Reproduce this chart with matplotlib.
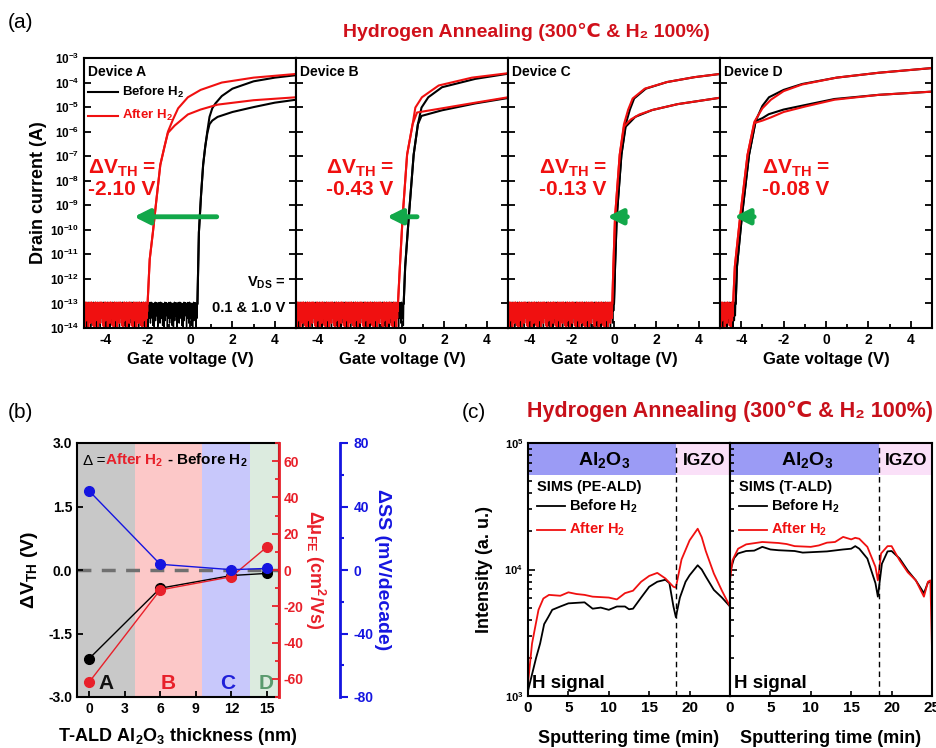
import numpy as np
import matplotlib
matplotlib.use("Agg")
import matplotlib.pyplot as plt
from matplotlib.ticker import FixedLocator, NullLocator, LogLocator, MultipleLocator

plt.rcParams['font.family'] = ['Liberation Sans', 'DejaVu Sans']
plt.rcParams['font.weight'] = 'bold'
plt.rcParams['axes.labelweight'] = 'bold'
plt.rcParams['axes.unicode_minus'] = False
plt.rcParams['mathtext.fontset'] = 'custom'
plt.rcParams['mathtext.rm'] = 'Liberation Sans:bold'
plt.rcParams['mathtext.it'] = 'Liberation Sans:bold'
plt.rcParams['mathtext.bf'] = 'Liberation Sans:bold'
plt.rcParams['axes.linewidth'] = 1.5

W, H = 936, 748
TITLE_RED = "#D0101A"
RED = "#F01010"
GREEN = "#12A84A"
TITLE = "Hydrogen Annealing (300℃ & H₂ 100%)"

# ---------------- panel (a) data: (gate V, log10 drain current) ----------------
NOISE = [-12.95, -13.3, -13.05, -13.6, -12.98, -13.2, -13.9, -13.0, -13.4, -13.1,
         -14.0, -13.0, -13.25, -12.95, -13.7, -13.1, -13.0, -13.5, -12.97, -13.35,
         -13.05, -13.95, -13.0, -13.2, -13.6, -12.96, -13.3, -13.1, -13.8, -13.0]

DEVICES = ["A", "B", "C", "D"]
VON_BEFORE = [0.35, 0.08, 0.0, -4.26]
VON_AFTER = [-2.0, -0.19, -0.08, -4.38]

A_BEFORE_HI = ([0.35, 0.42, 0.52, 0.62, 0.72, 0.82, 0.92, 1.05, 1.2, 1.5, 2.0, 3.0, 4.0, 5.0],
               [-13.0, -10.1, -8.6, -7.35, -6.6, -5.97, -5.4, -5.05, -4.85, -4.55, -4.25, -3.95, -3.8, -3.7])
A_BEFORE_LO = ([0.35, 0.42, 0.52, 0.62, 0.72, 0.82, 0.92, 1.05, 1.3, 2.0, 3.0, 4.0, 5.0],
               [-13.0, -10.1, -8.6, -7.35, -6.6, -6.05, -5.7, -5.55, -5.4, -5.2, -5.0, -4.82, -4.7])
A_AFTER_HI = ([-2.0, -1.9, -1.75, -1.6, -1.4, -1.2, -1.04, -0.8, -0.56, -0.1, 0.5, 1.5, 3.0, 5.0],
              [-13.0, -11.2, -10.1, -8.9, -7.35, -6.6, -6.0, -5.5, -5.05, -4.6, -4.3, -4.0, -3.8, -3.65])
A_AFTER_LO = ([-2.0, -1.9, -1.75, -1.6, -1.4, -1.2, -1.04, -0.72, -0.1, 0.5, 1.3, 3.0, 5.0],
              [-13.0, -11.2, -10.1, -8.9, -7.35, -6.6, -6.05, -5.75, -5.3, -5.1, -4.9, -4.72, -4.6])

B_BEFORE_HI = ([0.08, 0.15, 0.32, 0.55, 0.75, 0.92, 1.24, 1.89, 3.46, 5.0],
               [-13.0, -11.5, -9.47, -6.94, -5.7, -5.02, -4.6, -4.19, -3.85, -3.64])
B_BEFORE_LO = ([0.08, 0.15, 0.32, 0.55, 0.75, 0.92, 1.89, 3.46, 5.0],
               [-13.0, -11.5, -9.47, -6.94, -5.7, -5.36, -5.13, -4.85, -4.63])
B_AFTER_HI = ([-0.19, -0.1, 0.03, 0.24, 0.5, 0.63, 0.94, 1.73, 3.3, 5.0],
              [-13.0, -11.5, -9.47, -6.94, -5.7, -5.02, -4.6, -4.12, -3.8, -3.62])
B_AFTER_LO = ([-0.19, -0.1, 0.03, 0.24, 0.5, 0.71, 1.89, 3.46, 5.0],
              [-13.0, -11.5, -9.47, -6.94, -5.7, -5.22, -5.05, -4.82, -4.6])

C_BEFORE_HI = ([0.0, 0.05, 0.13, 0.35, 0.55, 0.75, 0.95, 1.5, 2.5, 3.8, 5.0],
               [-13.0, -11.5, -9.47, -6.94, -5.7, -5.1, -4.65, -4.25, -3.98, -3.78, -3.65])
C_BEFORE_LO = ([0.0, 0.05, 0.13, 0.35, 0.55, 0.72, 1.0, 1.8, 3.0, 5.0],
               [-13.0, -11.5, -9.47, -6.94, -5.8, -5.65, -5.4, -5.12, -4.88, -4.62])
C_AFTER_HI = ([-0.08, -0.03, 0.05, 0.27, 0.47, 0.67, 0.88, 1.45, 2.5, 3.8, 5.0],
              [-13.0, -11.5, -9.47, -6.94, -5.7, -5.1, -4.65, -4.25, -3.98, -3.78, -3.65])
C_AFTER_LO = ([-0.08, -0.03, 0.05, 0.27, 0.47, 0.62, 0.8, 1.2, 1.8, 3.0, 5.0],
              [-13.0, -11.5, -9.47, -6.94, -5.8, -5.65, -5.5, -5.3, -5.12, -4.88, -4.62])

D_BEFORE_HI = ([-4.26, -4.2, -3.97, -3.63, -3.32, -3.0, -2.69, -2.0, -1.13, 0.5, 2.5, 5.0],
               [-13.0, -11.5, -9.47, -6.94, -5.57, -4.95, -4.6, -4.3, -4.06, -3.8, -3.6, -3.41])
D_BEFORE_LO = ([-4.26, -4.2, -3.97, -3.63, -3.32, -3.0, -2.7, -2.0, -1.0, 0.4, 2.5, 5.0],
               [-13.0, -11.5, -9.47, -6.94, -5.57, -5.45, -5.29, -5.1, -4.92, -4.67, -4.5, -4.37])
D_AFTER_HI = ([-4.38, -4.3, -4.05, -3.7, -3.38, -3.0, -2.6, -2.0, -1.13, 0.5, 2.5, 5.0],
              [-13.0, -11.5, -9.47, -6.94, -5.6, -5.05, -4.7, -4.35, -4.08, -3.8, -3.6, -3.41])
D_AFTER_LO = ([-4.38, -4.3, -4.05, -3.7, -3.38, -3.0, -2.6, -2.0, -1.0, 0.4, 2.5, 5.0],
              [-13.0, -11.5, -9.47, -6.94, -5.65, -5.55, -5.42, -5.2, -4.98, -4.7, -4.5, -4.37])

BEFORE_CURVES = [(A_BEFORE_HI, A_BEFORE_LO), (B_BEFORE_HI, B_BEFORE_LO),
                 (C_BEFORE_HI, C_BEFORE_LO), (D_BEFORE_HI, D_BEFORE_LO)]
AFTER_CURVES = [(A_AFTER_HI, A_AFTER_LO), (B_AFTER_HI, B_AFTER_LO),
                (C_AFTER_HI, C_AFTER_LO), (D_AFTER_HI, D_AFTER_LO)]
DVTH_TEXT = ["-2.10 V", "-0.43 V", "-0.13 V", "-0.08 V"]
DVTH_TEXT_X = [0.02, 0.14, 0.147, 0.2]
ARROW_FROM = [1.26, 0.71, 0.63, -3.39]
ARROW_TO = [-2.64, -0.71, -0.32, -4.33]

# ---------------- panel (b) data ----------------
THICK = [0, 6, 12, 15]
DVTH = [-2.10, -0.43, -0.13, -0.08]
DMU = [-62, -11, -3.7, 12.8]
DSS = [50, 3.6, 0.2, 1.0]
REGION_EDGES = [-1, 3.87, 9.5, 13.6, 16]
REGION_COLORS = ["#c8c8c8", "#fcc8c8", "#c8c8fb", "#dcebdf"]
REGION_LETTERS = ["A", "B", "C", "D"]
LETTER_X = [1.45, 6.7, 11.7, 14.9]
LETTER_COLORS = ["#111111", "#e8202a", "#2020d8", "#5a9a6e"]

# ---------------- panel (c) data ----------------
PE_T_RED = [0, 0.5, 1.3, 1.9, 2.6, 4, 5, 6, 7, 8, 9, 10, 11, 12, 13, 14, 15, 16, 17, 18, 18.3,
            19, 20, 21, 21.5, 22, 23, 24, 25]
PE_RED = [1260, 2600, 4800, 5900, 6300, 6200, 6600, 6400, 6300, 6100, 6050, 6000, 5800, 6500,
          6800, 8000, 8900, 9400, 8500, 7300, 7200, 12000, 17000, 21000, 18000, 14000, 9300, 6800, 5100]
PE_T_BLK = [0, 1, 1.5, 2, 2.5, 3, 4, 5, 6, 7, 8, 9, 10, 11, 12, 12.5, 13, 14, 15, 16, 17, 17.5,
            18, 18.3, 18.8, 19.5, 20, 21, 21.5, 22, 23, 24, 25]
PE_BLK = [1100, 2000, 2600, 3700, 4200, 4800, 5100, 5400, 5450, 5500, 4900, 5000, 4800, 5100, 5100,
          4850, 4900, 6000, 7300, 8000, 8300, 7800, 5100, 4200, 6000, 8000, 9000, 10800, 10000, 8800,
          6900, 6000, 5100]
T_T_RED = [0, 0.3, 1, 2, 4, 6, 7, 8, 10, 11, 12, 13, 14, 15, 15.5, 16, 17, 18, 18.3, 18.7, 19.5,
           20, 20.5, 21, 22, 23, 24, 24.5, 24.8, 25]
T_RED = [8200, 11800, 14600, 15800, 16500, 16200, 15900, 15300, 15100, 15500, 16300, 16500, 18100,
         17300, 17800, 17500, 15100, 10500, 8200, 13400, 15300, 15300, 13400, 11800, 9500, 8200,
         6100, 8000, 8200, 2300]
T_T_BLK = [0, 0.5, 1, 2, 3, 4, 5, 6, 8, 9, 10, 12, 14, 15, 15.5, 16, 17, 18, 18.3, 18.8, 19.5,
           20, 21, 22, 23, 24, 24.5, 25]
T_BLK = [9500, 12300, 13400, 14000, 14100, 15100, 14400, 14200, 14000, 13600, 13700, 13900, 14400,
         14600, 15300, 14600, 12200, 7800, 6100, 11100, 13900, 14000, 12200, 9800, 8200, 6500, 7900, 8100]
INTERFACE = [18.3, 18.5]
SIMS_NAMES = ["SIMS (PE-ALD)", "SIMS (T-ALD)"]


def box(l, t, r, b):
    return [l / W, 1 - b / H, (r - l) / W, (b - t) / H]


def ftext(x, y, s, **kw):
    fig.text(x / W, 1 - y / H, s, **kw)


def bold_ticks(ax):
    for lab in ax.get_xticklabels() + ax.get_yticklabels():
        lab.set_fontweight("bold")


fig = plt.figure(figsize=(W / 100, H / 100), dpi=100)
fig.patch.set_facecolor("white")

# =============================== panel (a) ===============================
a_left = [84, 296, 508, 720]
for i, dev in enumerate(DEVICES):
    ax = fig.add_axes(box(a_left[i], 58, a_left[i] + 212, 328))
    # noise floors
    nb = int((VON_BEFORE[i] + 5) / 0.015)
    xb = np.linspace(-5, VON_BEFORE[i], nb)
    ax.plot(xb, 10 ** np.resize(NOISE, nb), color="black", lw=1.0)
    na = int((VON_AFTER[i] + 5) / 0.015)
    xa = np.linspace(-5, VON_AFTER[i], na)
    ax.plot(xa, 10 ** np.resize(NOISE[7:] + NOISE[:7], na), color=RED, lw=1.3)
    for v, li in BEFORE_CURVES[i]:
        ax.plot(v, 10 ** np.array(li), color="black", lw=1.5)
    for v, li in AFTER_CURVES[i]:
        ax.plot(v, 10 ** np.array(li), color=RED, lw=1.5)
    ax.set_yscale("log")
    ax.set_xlim(-5, 5)
    ax.set_ylim(1e-14, 1e-3)
    ax.xaxis.set_major_locator(FixedLocator([-4, -2, 0, 2, 4]))
    ax.xaxis.set_minor_locator(FixedLocator([-3, -1, 1, 3]))
    ax.yaxis.set_major_locator(FixedLocator([10.0 ** k for k in range(-14, -2)]))
    ax.yaxis.set_minor_locator(NullLocator())
    ax.tick_params(axis="both", which="both", direction="in", left=True, right=True,
                   labelsize=10, width=1.3)
    ax.tick_params(axis="both", which="major", length=5)
    ax.tick_params(axis="both", which="minor", length=3)
    if i == 0:
        ax.set_yticklabels([r"$\mathbf{10^{%d}}$" % k for k in range(-14, -2)], fontsize=8.5)
        ax.set_ylabel("Drain current (A)", fontsize=13, labelpad=2)
    else:
        ax.set_yticklabels([])
    bold_ticks(ax)
    ax.set_xlabel("Gate voltage (V)", fontsize=12, labelpad=4)
    ax.text(0.02, 0.975, "Device " + dev, transform=ax.transAxes, fontsize=10,
            ha="left", va="top")
    ax.text(DVTH_TEXT_X[i], 0.555, r"ΔV$_{\mathbf{TH}}$ =" + "\n" + DVTH_TEXT[i],
            transform=ax.transAxes, fontsize=15, color=RED, ha="left", va="center",
            linespacing=1.05)
    ax.annotate("", xy=(ARROW_TO[i], 3.4e-10), xytext=(ARROW_FROM[i], 3.4e-10),
                arrowprops=dict(arrowstyle="-|>,head_width=0.45,head_length=0.9",
                                color=GREEN, lw=3.5, shrinkA=0, shrinkB=0))
    if i == 0:
        ax.plot([-4.8, -3.4], [4e-5, 4e-5], color="black", lw=1.5)
        ax.plot([-4.8, -3.4], [4.5e-6, 4.5e-6], color=RED, lw=1.5)
        ax.text(-3.2, 4e-5, r"Before H$_{\mathbf{2}}$", fontsize=9.5, va="center", ha="left")
        ax.text(-3.2, 4.5e-6, r"After H$_{\mathbf{2}}$", fontsize=9.5, va="center", ha="left",
                color=RED)
        ax.text(0.95, 0.167, "V$_{\\mathbf{DS}}$ =", transform=ax.transAxes, fontsize=10.5,
                ha="right", va="center")
        ax.text(0.95, 0.075, "0.1 & 1.0 V", transform=ax.transAxes, fontsize=10.5,
                ha="right", va="center")

ftext(8, 22, "(a)", fontsize=15, fontweight="normal", va="center")
ftext(526, 32, TITLE, fontsize=14, color=TITLE_RED, ha="center", va="center")

# =============================== panel (b) ===============================
axb = fig.add_axes(box(77, 443, 279, 697))
for k in range(4):
    axb.axvspan(REGION_EDGES[k], REGION_EDGES[k + 1], color=REGION_COLORS[k], lw=0, zorder=0)
    axb.text(LETTER_X[k], -2.68, REGION_LETTERS[k], color=LETTER_COLORS[k], fontsize=15,
             ha="center", va="center")
axb.axhline(0, color="#707070", lw=2.5, ls=(0, (4, 3)), zorder=1)
axb.plot(THICK, DVTH, "-o", color="black", lw=1, ms=7, zorder=3)
axb.set_xlim(-1, 16)
axb.set_ylim(-3, 3)
axb.set_xticks([0, 3, 6, 9, 12, 15])
axb.set_yticks([-3, -1.5, 0, 1.5, 3])
axb.set_yticklabels(["-3.0", "-1.5", "0.0", "1.5", "3.0"])
axb.tick_params(axis="both", labelsize=10, direction="in", width=1.3, length=4)
bold_ticks(axb)
axb.set_ylabel(r"ΔV$_{\mathbf{TH}}$ (V)", fontsize=14, labelpad=6)
axb.set_xlabel(r"T-ALD Al$_{\mathbf{2}}$O$_{\mathbf{3}}$ thickness (nm)", fontsize=13, labelpad=7)
axb.text(0.03, 0.93, "Δ =", transform=axb.transAxes, fontsize=11, fontweight="normal",
         ha="left", va="center")
axb.text(0.14, 0.93, r"After H$_{\mathbf{2}}$", transform=axb.transAxes, fontsize=11,
         color="#e8202a", ha="left", va="center")
axb.text(0.445, 0.93, r"- Before H$_{\mathbf{2}}$", transform=axb.transAxes, fontsize=11,
         ha="left", va="center")

axr = axb.twinx()
axr.plot(THICK, DMU, "-o", color="#e8202a", lw=1, ms=7, zorder=3)
axr.set_ylim(-70, 70)
axr.yaxis.set_major_locator(MultipleLocator(20))
axr.yaxis.set_minor_locator(MultipleLocator(10))
axr.spines["right"].set_color("#e8202a")
axr.spines["right"].set_linewidth(2)
axr.tick_params(axis="y", which="both", colors="#e8202a", direction="in", labelsize=10, width=1.3)
axr.tick_params(axis="y", which="major", length=5)
axr.tick_params(axis="y", which="minor", length=3)
bold_ticks(axr)
axr.set_ylabel(r"Δμ$_{\mathbf{FE}}$ (cm$^{\mathbf{2}}$/Vs)", color="#e8202a", fontsize=13,
               rotation=270, labelpad=17)

axs = axb.twinx()
axs.spines["right"].set_position(("outward", 44))
axs.plot(THICK, DSS, "-o", color="#1515e0", lw=1, ms=7, zorder=3)
axs.set_ylim(-80, 80)
axs.yaxis.set_major_locator(MultipleLocator(40))
axs.yaxis.set_minor_locator(MultipleLocator(20))
axs.spines["right"].set_color("#1515e0")
axs.spines["right"].set_linewidth(2)
axs.tick_params(axis="y", which="both", colors="#1515e0", direction="out", labelsize=10, width=1.5)
axs.tick_params(axis="y", which="major", length=6)
axs.tick_params(axis="y", which="minor", length=3)
bold_ticks(axs)
axs.set_ylabel("ΔSS (mV/decade)", color="#1515e0", fontsize=14, rotation=270, labelpad=13)
for a in (axr, axs):
    for s in ("left", "top", "bottom"):
        a.spines[s].set_visible(False)
ftext(8, 413, "(b)", fontsize=15, fontweight="normal", va="center")

# =============================== panel (c) ===============================
c_boxes = [(528, 730), (730, 932)]
c_data = [(PE_T_BLK, PE_BLK, PE_T_RED, PE_RED), (T_T_BLK, T_BLK, T_T_RED, T_RED)]
for j in range(2):
    axc = fig.add_axes(box(c_boxes[j][0], 443, c_boxes[j][1], 696))
    tb, yb, tr, yr = c_data[j]
    axc.plot(tb, yb, color="black", lw=1.3)
    axc.plot(tr, yr, color=RED, lw=1.3)
    axc.set_yscale("log")
    axc.set_ylim(1e3, 1e5)
    axc.set_xlim(0, 25)
    band = (np.log10(55600) - 3) / 2
    axc.axvspan(0, INTERFACE[j], ymin=band, ymax=1, color="#9b9bf5", lw=0, zorder=0)
    axc.axvspan(INTERFACE[j], 25, ymin=band, ymax=1, color="#fae0f8", lw=0, zorder=0)
    axc.axvline(INTERFACE[j], color="black", lw=1, ls=(0, (4, 3)))
    axc.text(INTERFACE[j] / 2 + 0.3, 7.3e4, r"Al$_{\mathbf{2}}$O$_{\mathbf{3}}$", fontsize=14,
             ha="center", va="center")
    axc.text((INTERFACE[j] + 25) / 2 + 0.1, 7.3e4, "IGZO", fontsize=12.5, ha="center", va="center")
    axc.text(1.1, 4.45e4, SIMS_NAMES[j], fontsize=10.5, ha="left", va="center")
    axc.plot([1.1, 4.6], [3.16e4, 3.16e4], color="black", lw=1.3)
    axc.plot([1.1, 4.6], [2.07e4, 2.07e4], color=RED, lw=1.3)
    axc.text(5.1, 3.16e4, r"Before H$_{\mathbf{2}}$", fontsize=10.5, ha="left", va="center")
    axc.text(5.1, 2.07e4, r"After H$_{\mathbf{2}}$", fontsize=10.5, ha="left", va="center",
             color=RED)
    axc.text(0.02, 0.05, "H signal", transform=axc.transAxes, fontsize=13.5,
             ha="left", va="center")
    axc.xaxis.set_major_locator(FixedLocator([0, 5, 10, 15, 20] if j == 0 else [0, 5, 10, 15, 20, 25]))
    axc.xaxis.set_minor_locator(NullLocator())
    axc.yaxis.set_minor_locator(LogLocator(base=10, subs=np.arange(2, 10)))
    axc.tick_params(axis="both", which="both", direction="in", labelsize=11, width=1.2)
    axc.tick_params(axis="y", which="major", length=5, labelsize=8)
    axc.tick_params(axis="y", which="minor", length=3)
    axc.set_yticks([1e3, 1e4, 1e5])
    if j == 0:
        axc.set_yticklabels([r"$\mathbf{10^{3}}$", r"$\mathbf{10^{4}}$", r"$\mathbf{10^{5}}$"])
        axc.set_ylabel("Intensity (a. u.)", fontsize=13, labelpad=8)
    else:
        axc.set_yticklabels([])
    bold_ticks(axc)
    axc.set_xlabel("Sputtering time (min)", fontsize=13, labelpad=11)

ftext(462, 412, "(c)", fontsize=15, fontweight="normal", va="center")
ftext(730, 411, TITLE, fontsize=15.5, color="#C8101A", ha="center", va="center")

fig.savefig("out.png", dpi=100, facecolor="white")
